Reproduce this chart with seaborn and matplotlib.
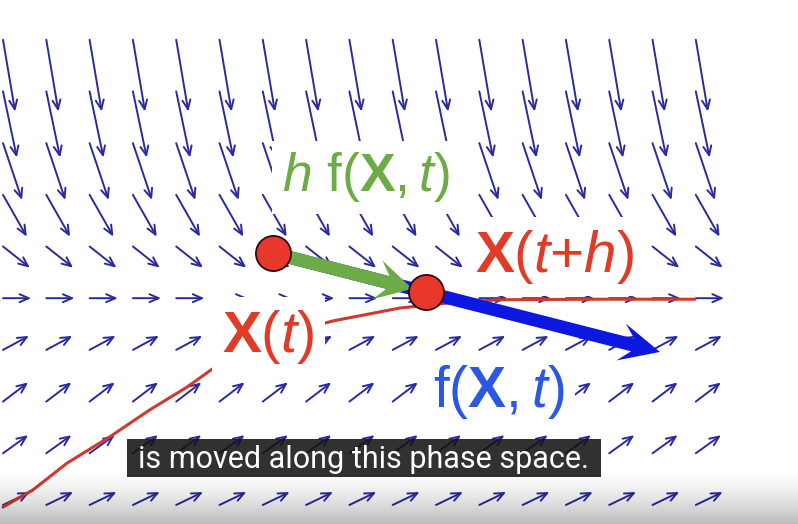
import numpy as np
import matplotlib
matplotlib.use('Agg')  #Non-interactive backend
import matplotlib.pyplot as plt
import matplotlib.transforms as mtransforms
from matplotlib.patches import FancyArrow, Rectangle
import seaborn as sns

#Slope field grid: t along the horizontal axis, X along the vertical one
t_grid = [0, 1, 2, 3, 4, 5, 6, 7, 8, 9, 10, 11, 12, 13, 14, 15, 16]
x_grid = [0, 1, 2, 3, 4, 5, 6, 7, 8, 9]
#Arrow components per row (bottom row first)
row_u = [0.62, 0.58, 0.58, 0.60, 0.65, 0.62, 0.55, 0.44, 0.32, 0.28]
row_v = [0.25, 0.35, 0.37, 0.27, 0.00, -0.41, -0.81, -1.10, -1.28, -1.39]

#Solution curve X(t)
curve_t = [0.0, 0.69, 1.48, 2.47, 3.39, 4.25, 4.90, 5.60, 6.30, 7.00, 7.62,
           9.17, 10.32, 11.48, 13.79, 15.98]
curve_x = [-0.04, 0.29, 0.81, 1.32, 1.84, 2.28, 2.67, 2.98, 3.22, 3.42, 3.56,
           3.81, 3.91, 3.97, 3.98, 3.98]

#Euler step: current point, slope vector and step size
p0 = (6.24, 4.87)
f_vec = (8.93, -1.91)
h_step = 0.395
p1 = (p0[0] + h_step * f_vec[0], p0[1] + h_step * f_vec[1])

subtitle = 'is moved along this phase space.'

#Colours
field_color = '#2a2aa0'
curve_color = '#cf3a2e'
green = '#6dab47'
blue_arrow = '#0d17e2'
blue_text = '#2a58e4'
red_text = '#e03b27'
dot_color = '#e8372b'

sns.set_theme(style='white')
plt.rcParams['font.family'] = ['Liberation Sans', 'DejaVu Sans']
plt.rcParams['mathtext.fontset'] = 'custom'
plt.rcParams['mathtext.rm'] = 'Liberation Sans'
plt.rcParams['mathtext.it'] = 'Liberation Sans:italic'
plt.rcParams['mathtext.bf'] = 'Liberation Sans:bold'

W, H = 798, 524
fig = plt.figure(figsize=(W / 100, H / 100), dpi=100)
ax = fig.add_axes([0, 0, 1, 1])
xlim = (-0.069, 18.36)
ylim = (-0.368, 9.768)
ax.set_xlim(*xlim)
ax.set_ylim(*ylim)
ax.axis('off')

#pixels per data unit, used to draw the big arrows undistorted
sx = W / (xlim[1] - xlim[0])
sy = H / (ylim[1] - ylim[0])
px_trans = mtransforms.Affine2D().scale(1 / sx, 1 / sy) + ax.transData

#Slope field
for j, xv in enumerate(x_grid):
    for tv in t_grid:
        ax.annotate('', xy=(tv + row_u[j], xv + row_v[j]), xytext=(tv, xv),
                    arrowprops=dict(arrowstyle='->,head_length=0.55,head_width=0.24',
                                    color=field_color, lw=1.4,
                                    shrinkA=0, shrinkB=0),
                    zorder=1)

#Solution curve
sns.lineplot(x=curve_t, y=curve_x, sort=False, estimator=None,
             color=curve_color, lw=2.2, ax=ax, zorder=2)

#Labels with white boxes
box = dict(boxstyle='square,pad=0.18', fc='white', ec='none')
ax.text(6.44, 6.07, r'$h\ \mathrm{f}(\mathbf{X},t)$', color=green, fontsize=38.5,
        ha='left', va='baseline', bbox=box, zorder=4)
ax.text(10.90, 4.51, r'$\mathbf{X}(t{+}h)$', color=red_text, fontsize=42,
        ha='left', va='baseline', bbox=box, zorder=4)
ax.text(5.06, 2.96, r'$\mathbf{X}(t)$', color=red_text, fontsize=42,
        ha='left', va='baseline', bbox=box, zorder=4)
ax.text(9.93, 1.89, r'$\mathrm{f}(\mathbf{X},t)$', color=blue_text, fontsize=41,
        ha='left', va='baseline', bbox=box, zorder=4)

#f(X,t) arrow and h f(X,t) step arrow, drawn in pixel units
bx, by = f_vec[0] * sx, f_vec[1] * sy
ax.add_patch(FancyArrow(p0[0] * sx, p0[1] * sy, bx, by, width=13,
                        head_width=38, head_length=40, overhang=0.3,
                        length_includes_head=True, color=blue_arrow, lw=0,
                        transform=px_trans, zorder=5))
gx, gy = (p1[0] - p0[0]) * sx, (p1[1] - p0[1]) * sy
glen = np.hypot(gx, gy)
shrink = (glen - 14) / glen
ax.add_patch(FancyArrow(p0[0] * sx, p0[1] * sy, gx * shrink, gy * shrink, width=13,
                        head_width=40, head_length=36, overhang=0.3,
                        length_includes_head=True, color=green, lw=0,
                        transform=px_trans, zorder=5))

#Points X(t) and X(t+h)
sns.scatterplot(x=[p0[0], p1[0]], y=[p0[1], p1[1]], s=640, color=dot_color,
                edgecolor='#2a0c0c', linewidth=1.3, ax=ax, zorder=6)

#Caption bar
ax.add_patch(Rectangle((0.159, 0.0897), 0.594, 0.0725, transform=ax.transAxes,
                       fc=(0.08, 0.08, 0.08), ec='none', alpha=0.88, zorder=7))
ax.text(0.456, 0.124, subtitle, transform=ax.transAxes, color='white',
        fontsize=22, family=['Roboto', 'DejaVu Sans'], ha='center', va='center',
        zorder=8)

#Grey fade at the bottom of the video frame
ramp = np.linspace(0, 1, 100) ** 1.6 * 0.27
grad = np.zeros((100, 1, 4))
grad[:, 0, 3] = ramp
ax.imshow(grad, extent=[0, 1, 0, 0.11], transform=ax.transAxes, aspect='auto',
          interpolation='bilinear', zorder=9)
ax.set_xlim(*xlim)
ax.set_ylim(*ylim)

fig.savefig('out.png', dpi=100)
plt.close(fig)
